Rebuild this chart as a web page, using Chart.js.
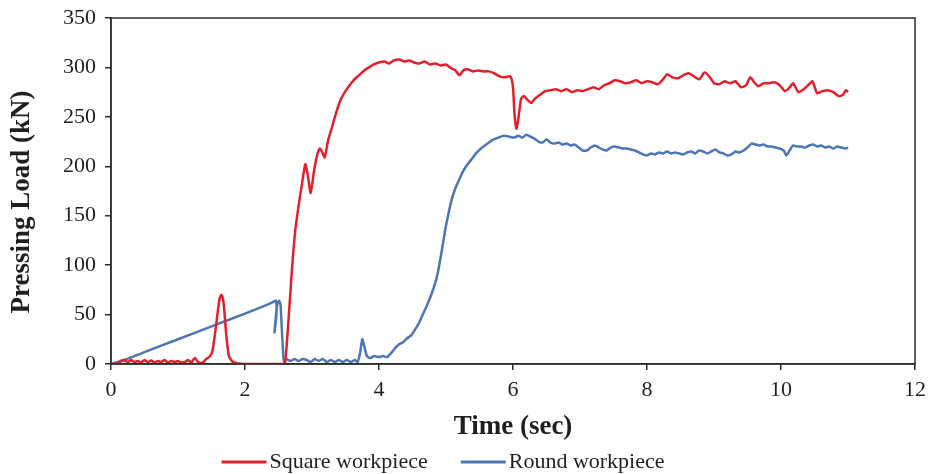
<!DOCTYPE html>
<html>
<head>
<meta charset="utf-8">
<script src="https://cdn.jsdelivr.net/npm/chart.js@4.4.1/dist/chart.umd.min.js"></script>
<style>
  html, body { margin: 0; padding: 0; background: #fff; }
  #wrap { width: 928px; height: 474px; }
</style>
</head>
<body>
<div id="wrap"><canvas id="loadChart" width="928" height="474"></canvas></div>
<script>
// Pressing load over time for the two workpiece shapes
const seriesNames = ['Square workpiece', 'Round workpiece'];

const squareTime = [
  0.00, 0.10, 0.15, 0.20, 0.25, 0.30, 0.35, 0.40, 0.45, 0.50, 0.55, 0.60, 0.65, 0.70, 0.75,
  0.80, 0.85, 0.90, 0.95, 1.00, 1.05, 1.10, 1.15, 1.20, 1.25, 1.30, 1.33, 1.38, 1.42, 1.48,
  1.52, 1.57, 1.62, 1.65, 1.68, 1.72, 1.76, 1.82, 1.90, 2.00, 2.30, 2.57, 2.60, 2.65, 2.70,
  2.75, 2.80, 2.85, 2.90, 2.94, 2.98, 3.03, 3.08, 3.12, 3.16, 3.19, 3.24, 3.30, 3.36, 3.42,
  3.48, 3.55, 3.62, 3.70, 3.78, 3.85, 3.92, 4.00, 4.08, 4.15, 4.22, 4.30, 4.38, 4.45, 4.52,
  4.60, 4.68, 4.76, 4.84, 4.92, 5.00, 5.08, 5.14, 5.20, 5.26, 5.33, 5.40, 5.48, 5.56, 5.64,
  5.72, 5.80, 5.88, 5.96, 6.00, 6.02, 6.05, 6.08, 6.12, 6.16, 6.22, 6.27, 6.32, 6.40, 6.48,
  6.56, 6.64, 6.72, 6.80, 6.88, 6.96, 7.04, 7.12, 7.20, 7.28, 7.36, 7.44, 7.52, 7.60, 7.68,
  7.76, 7.84, 7.92, 8.00, 8.08, 8.16, 8.24, 8.30, 8.38, 8.46, 8.54, 8.62, 8.70, 8.78, 8.86,
  8.94, 9.00, 9.08, 9.16, 9.24, 9.32, 9.40, 9.48, 9.54, 9.60, 9.66, 9.74, 9.82, 9.90, 9.98,
  10.06, 10.12, 10.18, 10.26, 10.34, 10.42, 10.47, 10.54, 10.62, 10.70, 10.78, 10.86, 10.92, 10.97, 11.00
];
const squareLoad = [
  0, 0.5, 3, 4, 2, 4, 2, 3, 1.5, 4, 2, 3.5, 1.5, 3, 2,
  4, 1.5, 3, 2, 3, 1.5, 2, 4, 1.5, 6, 2, 1, 2, 5, 8,
  15, 40, 66, 70, 62, 30, 8, 2, 0.5, 0, 0, 0, 2, 45, 95,
  135, 160, 182, 202, 190, 173, 195, 212, 218, 213, 209, 226, 240, 254, 266,
  274, 281, 287, 292, 297, 300, 303, 305, 306, 304, 307, 308, 306, 307, 305,
  304, 306, 303, 304, 302, 303, 299, 297, 292, 297, 298, 296, 297, 296, 296,
  294, 291, 290, 291, 280, 255, 238, 248, 268, 271, 267, 264, 268, 272, 276,
  277, 278, 276, 278, 275, 277, 276, 278, 280, 278, 282, 284, 287, 286, 284,
  285, 287, 284, 286, 285, 283, 288, 293, 290, 289, 292, 294, 291, 288, 295,
  290, 284, 283, 286, 284, 286, 280, 282, 290, 285, 281, 284, 284, 285, 282,
  276, 279, 284, 275, 278, 283, 286, 274, 276, 277, 275, 271, 272, 277, 275
];

const roundTime = [
  0.00, 0.20, 0.50, 1.00, 1.50, 2.00, 2.30, 2.40, 2.46, 2.47, 2.45, 2.44, 2.45, 2.48, 2.51,
  2.53, 2.55, 2.58, 2.62, 2.68, 2.74, 2.80, 2.86, 2.92, 2.98, 3.04, 3.10, 3.16, 3.22, 3.28,
  3.34, 3.40, 3.46, 3.52, 3.58, 3.64, 3.68, 3.72, 3.75, 3.78, 3.82, 3.87, 3.93, 4.00, 4.06,
  4.12, 4.18, 4.24, 4.30, 4.36, 4.42, 4.48, 4.54, 4.60, 4.66, 4.72, 4.78, 4.84, 4.88, 4.92,
  4.96, 5.00, 5.04, 5.08, 5.12, 5.18, 5.24, 5.30, 5.38, 5.46, 5.54, 5.62, 5.70, 5.78, 5.86,
  5.94, 6.02, 6.08, 6.14, 6.20, 6.26, 6.32, 6.38, 6.44, 6.50, 6.56, 6.62, 6.68, 6.74, 6.80,
  6.86, 6.92, 6.98, 7.04, 7.10, 7.16, 7.22, 7.28, 7.34, 7.40, 7.46, 7.52, 7.58, 7.64, 7.70,
  7.76, 7.82, 7.88, 7.94, 8.00, 8.06, 8.12, 8.18, 8.24, 8.30, 8.36, 8.42, 8.48, 8.54, 8.60,
  8.66, 8.72, 8.78, 8.84, 8.90, 8.96, 9.02, 9.08, 9.14, 9.20, 9.26, 9.32, 9.38, 9.44, 9.50,
  9.56, 9.62, 9.68, 9.74, 9.80, 9.86, 9.92, 9.98, 10.04, 10.08, 10.12, 10.18, 10.24, 10.30, 10.36,
  10.42, 10.48, 10.54, 10.60, 10.66, 10.72, 10.78, 10.84, 10.90, 10.96, 11.00
];
const roundLoad = [
  0, 4, 12, 25, 38, 51, 59, 62, 64, 50, 38, 32, 40, 60, 64,
  60, 35, 3, 5, 3, 5, 3, 5, 4, 2, 5, 3, 5, 2, 4,
  2, 4, 2, 4, 2, 4, 2, 12, 25, 18, 8, 6, 8, 7, 8,
  7, 11, 16, 20, 22, 26, 29, 35, 42, 51, 60, 70, 82, 93, 108,
  124, 140, 153, 165, 174, 184, 193, 200, 207, 214, 219, 223, 227, 229, 231,
  230, 229, 231, 229, 232, 230, 228, 225, 224, 227, 224, 223, 224, 222, 223,
  221, 222, 219, 216, 216, 219, 221, 219, 217, 216, 219, 220, 219, 218, 218,
  217, 216, 214, 212, 211, 213, 212, 214, 213, 215, 213, 214, 213, 212, 214,
  215, 213, 216, 215, 213, 215, 217, 214, 213, 211, 212, 215, 214, 216, 219,
  223, 222, 221, 222, 220, 220, 219, 218, 216, 211, 215, 221, 220, 220, 219,
  221, 222, 220, 221, 219, 220, 218, 220, 219, 218, 219
];

const xTicks = [0, 2, 4, 6, 8, 10, 12];
const yTicks = [0, 50, 100, 150, 200, 250, 300, 350];
const yTitle = 'Pressing Load (kN)';

const serif = "'Liberation Serif', 'Times New Roman', serif";
const axisColor = '#2b2b2b';
const textColor = '#1f1f1f';
const lineColors = ['#e31f2b', '#4e76b4'];

function toPoints(times, loads) {
  return times.map((t, i) => ({ x: t, y: loads[i] }));
}

// Box around the plot area, plus the rotated y-axis title
const frame = {
  id: 'frame',
  afterDatasetsDraw(chart) {
    const { ctx, chartArea: a } = chart;
    ctx.save();
    ctx.strokeStyle = axisColor;
    ctx.lineWidth = 1.5;
    ctx.strokeRect(a.left, a.top, a.right - a.left, a.bottom - a.top);

    ctx.translate(22, (a.top + a.bottom) / 2 + 11);
    ctx.rotate(-Math.PI / 2);
    ctx.font = 'bold 27px ' + serif;
    ctx.fillStyle = textColor;
    ctx.textAlign = 'center';
    ctx.textBaseline = 'middle';
    ctx.fillText(yTitle, 0, 0);
    ctx.restore();
  }
};

// Line-sample legend under the axis title
const lineLegend = {
  id: 'lineLegend',
  afterDraw(chart) {
    const { ctx } = chart;
    const sample = 45, gap = 3, between = 33;
    ctx.save();
    ctx.font = '22px ' + serif;
    ctx.textBaseline = 'middle';
    const sets = chart.data.datasets;
    const widths = sets.map(d => sample + gap + ctx.measureText(d.label).width);
    const total = widths.reduce((s, w) => s + w, 0) + between * (sets.length - 1);
    let x = 443 - total / 2;
    const y = 462;
    sets.forEach((d, i) => {
      ctx.strokeStyle = d.borderColor;
      ctx.lineWidth = 3;
      ctx.beginPath();
      ctx.moveTo(x, y);
      ctx.lineTo(x + sample, y);
      ctx.stroke();
      ctx.fillStyle = textColor;
      ctx.fillText(d.label, x + sample + gap, y);
      x += widths[i] + between;
    });
    ctx.restore();
  }
};

new Chart(document.getElementById('loadChart'), {
  type: 'line',
  data: {
    datasets: [
      {
        label: seriesNames[0],
        data: toPoints(squareTime, squareLoad),
        borderColor: lineColors[0],
        borderWidth: 2.5,
        pointRadius: 0,
        tension: 0.2
      },
      {
        label: seriesNames[1],
        data: toPoints(roundTime, roundLoad),
        borderColor: lineColors[1],
        borderWidth: 2.5,
        pointRadius: 0,
        tension: 0.2
      }
    ]
  },
  options: {
    responsive: false,
    animation: false,
    layout: { padding: { top: 18, right: 13, left: 0, bottom: 0 } },
    plugins: {
      legend: { display: false },
      tooltip: { enabled: false }
    },
    scales: {
      x: {
        type: 'linear',
        min: 0,
        max: 12,
        afterBuildTicks(scale) {
          scale.ticks = xTicks.map(v => ({ value: v }));
        },
        afterFit(scale) {
          scale.height = 110;
          scale.paddingLeft = 0;
          scale.paddingRight = 0;
        },
        grid: { drawOnChartArea: false, drawTicks: true, tickLength: 6, color: axisColor, lineWidth: 1.5 },
        border: { display: true, color: axisColor, width: 1.5 },
        ticks: { color: textColor, font: { family: serif, size: 22 }, padding: 7, maxRotation: 0 },
        title: {
          display: true,
          text: 'Time (sec)',
          color: textColor,
          font: { family: serif, size: 27, weight: 'bold' },
          padding: { top: 0, bottom: 31 }
        }
      },
      y: {
        min: 0,
        max: 350,
        afterBuildTicks(scale) {
          scale.ticks = yTicks.map(v => ({ value: v }));
        },
        afterFit(scale) {
          scale.width = 111;
          scale.paddingTop = 0;
          scale.paddingBottom = 0;
        },
        grid: { drawOnChartArea: false, drawTicks: true, tickLength: 6, color: axisColor, lineWidth: 1.5 },
        border: { display: true, color: axisColor, width: 1.5 },
        ticks: { color: textColor, font: { family: serif, size: 22 }, padding: 9 }
      }
    }
  },
  plugins: [frame, lineLegend]
});
</script>
</body>
</html>
